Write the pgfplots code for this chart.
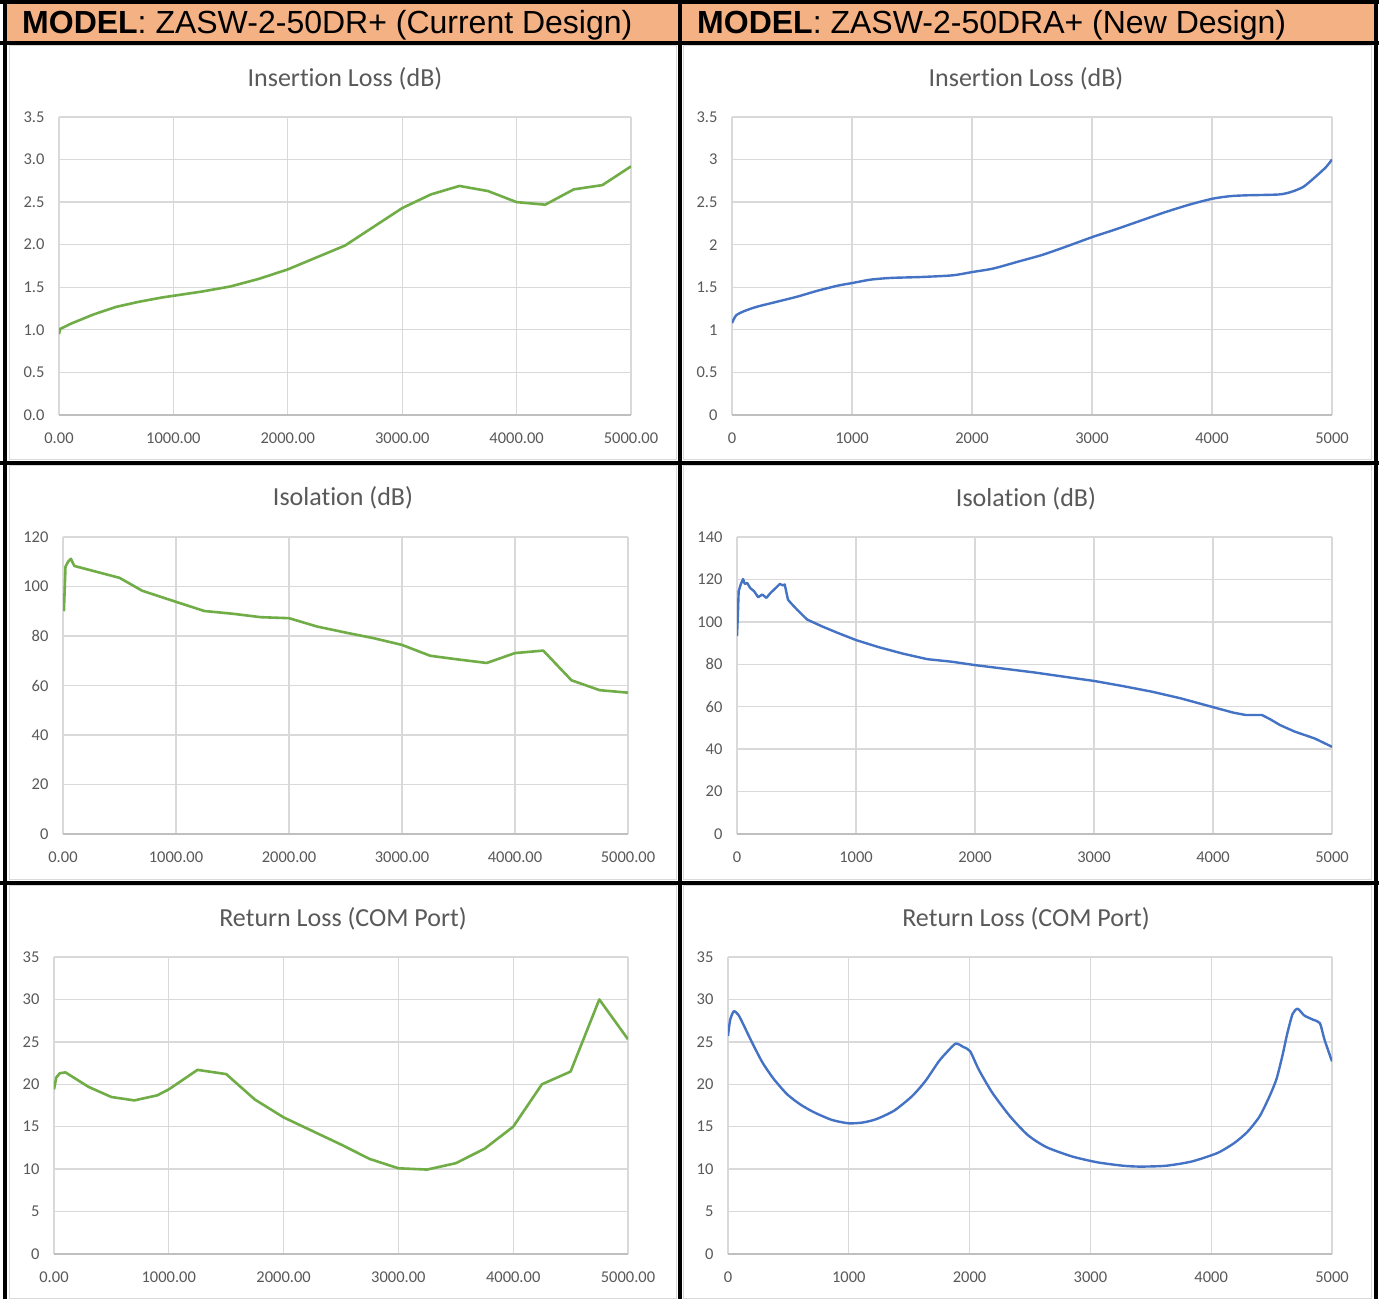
\documentclass[border=0pt]{standalone}
\usepackage{fontspec}
\setmainfont{Carlito}[Ligatures=NoCommon]
\newfontfamily\arialfont{Liberation Sans}
\usepackage{pgfplots}
\pgfplotsset{compat=1.18}
\definecolor{cgreen}{HTML}{70AD47}
\definecolor{cblue}{HTML}{4472C4}
\definecolor{corange}{HTML}{F4B183}
\definecolor{ctext}{HTML}{595959}
\definecolor{cgrid}{HTML}{D9D9D9}
\definecolor{caxis}{HTML}{BFBFBF}
\pgfplotsset{
  exc/.style={
    scale only axis, anchor=south west,
    xmin=0, xmax=5000, ymin=0,
    xtick={0,1000,2000,3000,4000,5000},
    grid=major, major grid style={cgrid, line width=1.3pt},
    axis line style={draw=none},
    major tick length=0pt,
    tick style={draw=none},
    ticklabel style={font=\fontsize{16.5}{18}\selectfont, text=ctext},
    /pgf/number format/assume math mode=true,
    xticklabel style={yshift=-14pt},
    yticklabel style={xshift=-11pt},
    extra y ticks={0}, extra y tick labels={},
    extra y tick style={major grid style={caxis, line width=1.6pt}},
  },
  xleft/.style={xticklabels={0.00,1000.00,2000.00,3000.00,4000.00,5000.00}},
  xright/.style={xticklabels={0,1000,2000,3000,4000,5000}},
  gline/.style={cgreen, line width=2.6pt, line join=round},
  bline/.style={cblue, line width=2.4pt, line join=round},
}
\newcommand{\ttl}{\fontsize{26}{30}\selectfont\color{ctext}}
\begin{document}
\begin{tikzpicture}
\useasboundingbox (0pt,0pt) rectangle (1379pt,1299pt);
\fill[white] (0pt,0pt) rectangle (1379pt,1299pt);
% header
\fill[corange] (7pt,1258pt) rectangle (1374pt,1295pt);
% chart area borders
\foreach \xa/\xb in {9.5/676.5, 683.5/1371.5}{
  \foreach \ya/\yb in {839.5/1253, 419.5/833, 0.5/413}{
    \draw[cgrid, line width=1pt] (\xa pt,\ya pt) rectangle (\xb pt,\yb pt);
  }
}
% black rules
\fill[black] (0pt,1295pt) rectangle (1379pt,1299pt);
\fill[black] (0pt,1254pt) rectangle (1379pt,1258pt);
\fill[black] (0pt,834pt) rectangle (1379pt,838pt);
\fill[black] (0pt,414pt) rectangle (1379pt,418pt);
\fill[black] (3pt,0pt) rectangle (7pt,1299pt);
\fill[black] (1374pt,0pt) rectangle (1378pt,1299pt);
\fill[black] (678pt,0pt) rectangle (682pt,1299pt);
% headers
\node[anchor=base west, inner sep=0pt, font=\arialfont\fontsize{32}{36}\selectfont] at (22pt,1265pt) {\textbf{MODEL}: ZASW-2-50DR+ (Current Design)};
\node[anchor=base west, inner sep=0pt, font=\arialfont\fontsize{32}{36}\selectfont] at (697pt,1265pt) {\textbf{MODEL}: ZASW-2-50DRA+ (New Design)};
% titles
\node[anchor=base, inner sep=0pt] at (345pt,1212pt) {\ttl Insertion Loss (dB)};
\node[anchor=base, inner sep=0pt] at (1026pt,1212pt) {\ttl Insertion Loss (dB)};
\node[anchor=base, inner sep=0pt] at (343pt,793pt) {\ttl Isolation (dB)};
\node[anchor=base, inner sep=0pt] at (1026pt,792pt) {\ttl Isolation (dB)};
\node[anchor=base, inner sep=0pt] at (343pt,372pt) {\ttl Return Loss (COM Port)};
\node[anchor=base, inner sep=0pt] at (1026pt,372pt) {\ttl Return Loss (COM Port)};

% ---- Row 1 left
\begin{axis}[exc, xleft, at={(59pt,884pt)}, width=572pt, height=298pt, ymax=3.5,
  ytick={0,0.5,1,1.5,2,2.5,3,3.5}, yticklabels={0.0,0.5,1.0,1.5,2.0,2.5,3.0,3.5}]
\addplot[gline] coordinates {(0,0.95)(10,1.01)(100,1.07)(300,1.18)(500,1.27)(700,1.33)(900,1.38)(1000,1.40)(1250,1.45)(1500,1.51)(1750,1.60)(2000,1.71)(2250,1.85)(2500,1.99)(2750,2.21)(3000,2.43)(3250,2.59)(3500,2.69)(3750,2.63)(4000,2.50)(4250,2.47)(4500,2.65)(4750,2.70)(5000,2.92)};
\end{axis}
% ---- Row 1 right
\begin{axis}[exc, xright, at={(732pt,884pt)}, width=600pt, height=298pt, ymax=3.5,
  ytick={0,0.5,1,1.5,2,2.5,3,3.5}, yticklabels={0,0.5,1,1.5,2,2.5,3,3.5}]
\addplot[bline, smooth, tension=0.4] coordinates {(0,1.08)(34,1.17)(102,1.22)(204,1.27)(374,1.33)(544,1.39)(714,1.46)(884,1.52)(1003,1.55)(1156,1.59)(1327,1.61)(1565,1.62)(1837,1.64)(2007,1.68)(2177,1.72)(2381,1.80)(2585,1.88)(2789,1.98)(3003,2.09)(3197,2.18)(3401,2.28)(3605,2.38)(3810,2.47)(4003,2.54)(4150,2.57)(4286,2.58)(4558,2.59)(4660,2.62)(4762,2.68)(4864,2.80)(4949,2.91)(5000,3.00)};
\end{axis}
% ---- Row 2 left
\begin{axis}[exc, xleft, at={(63pt,465pt)}, width=565pt, height=297pt, ymax=120,
  ytick={0,20,40,60,80,100,120}, yticklabels={0,20,40,60,80,100,120}]
\addplot[gline] coordinates {(8,90)(15,99)(22,108)(45,110)(70,111.2)(100,108.3)(500,103.5)(700,98.3)(900,95.3)(1000,93.8)(1250,90.1)(1500,89.0)(1750,87.6)(2000,87.2)(2250,83.8)(2500,81.4)(2750,79.1)(3000,76.4)(3250,72.0)(3500,70.5)(3750,69.1)(4000,73.1)(4250,74.1)(4500,62.1)(4750,58.1)(5000,57.1)};
\end{axis}
% ---- Row 2 right
\begin{axis}[exc, xright, at={(737pt,465pt)}, width=595pt, height=297pt, ymax=140,
  ytick={0,20,40,60,80,100,120,140}, yticklabels={0,20,40,60,80,100,120,140}]
\addplot[bline] coordinates {(0,93.3)(7,102.7)(14,114.4)(31,117.6)(51,120.2)(65,117.9)(86,118.3)(110,116.0)(144,114.4)(178,111.6)(212,112.9)(247,111.3)(281,113.6)(326,116.0)(360,117.9)(384,117.2)(401,117.6)(428,110.5)(452,108.9)(504,105.8)(589,101.1)(709,98.0)(846,94.8)(1001,91.4)(1189,88.1)(1395,85.0)(1600,82.4)(1806,81.2)(2001,79.6)(2217,78.1)(2491,76.2)(2766,74.0)(3005,72.1)(3245,69.7)(3485,67.1)(3725,64.0)(4006,59.7)(4171,57.2)(4274,56.1)(4411,56.1)(4480,54.1)(4565,51.3)(4685,48.3)(4856,45.0)(5000,41.1)};
\end{axis}
% ---- Row 3 left
\begin{axis}[exc, xleft, at={(54pt,45pt)}, width=574pt, height=297pt, ymax=35,
  ytick={0,5,10,15,20,25,30,35}, yticklabels={0,5,10,15,20,25,30,35}]
\addplot[gline] coordinates {(0,19.4)(20,20.8)(50,21.3)(100,21.4)(300,19.7)(500,18.5)(700,18.1)(900,18.7)(1000,19.4)(1250,21.7)(1500,21.2)(1750,18.2)(2000,16.1)(2250,14.5)(2500,12.9)(2750,11.2)(3000,10.1)(3250,9.95)(3500,10.7)(3750,12.4)(4000,15.0)(4250,20.0)(4500,21.5)(4750,30.0)(5000,25.3)};
\end{axis}
% ---- Row 3 right
\begin{axis}[exc, xright, at={(728pt,45pt)}, width=604pt, height=297pt, ymax=35,
  ytick={0,5,10,15,20,25,30,35}, yticklabels={0,5,10,15,20,25,30,35}]
\addplot[bline, smooth, tension=0.4] coordinates {(0,25.7)(18,27.6)(48,28.6)(85,28.2)(122,27.2)(159,26.1)(214,24.5)(288,22.5)(380,20.6)(491,18.8)(601,17.6)(712,16.7)(860,15.8)(1000,15.4)(1118,15.5)(1229,15.9)(1376,16.9)(1524,18.6)(1635,20.4)(1745,22.7)(1819,23.9)(1886,24.8)(1948,24.4)(2004,23.9)(2077,21.7)(2188,19.0)(2336,16.2)(2483,14.0)(2635,12.6)(2847,11.5)(3059,10.8)(3272,10.4)(3414,10.3)(3626,10.4)(3839,10.9)(4051,11.9)(4193,13.1)(4300,14.4)(4400,16.2)(4480,18.5)(4540,20.6)(4590,23.4)(4630,26.0)(4674,28.3)(4716,28.9)(4771,28.1)(4845,27.6)(4900,27.2)(4937,25.3)(5000,22.7)};
\end{axis}
\end{tikzpicture}
\end{document}
